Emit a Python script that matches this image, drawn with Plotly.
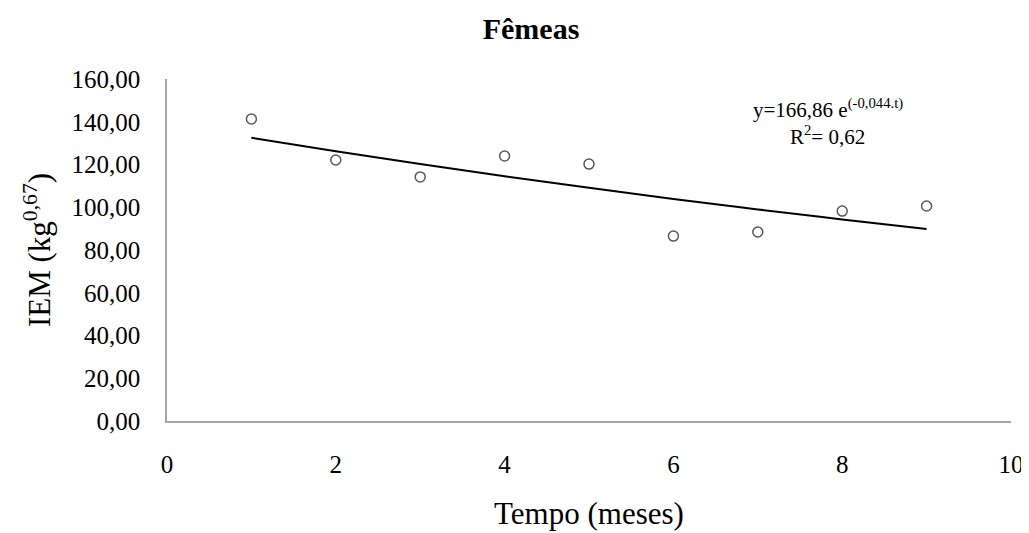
import plotly.graph_objects as go

months = [1, 2, 3, 4, 5, 6, 7, 8, 9]
iem = [141.3, 122.1, 114.2, 124.0, 120.2, 86.5, 88.4, 98.2, 100.6]
trend = [132.5, 126.2, 120.2, 114.5, 109.1, 103.9, 99.0, 94.3, 89.8]
y_ticks = [0, 20, 40, 60, 80, 100, 120, 140, 160]
x_ticks = [0, 2, 4, 6, 8, 10]

FONT = "Liberation Serif, Times New Roman, serif"
OFF = 8  # page body margin

fig = go.Figure()
fig.add_trace(go.Scatter(
    x=months, y=trend, mode="lines",
    line=dict(color="black", width=2, shape="spline"),
    showlegend=False, hoverinfo="skip"))
fig.add_trace(go.Scatter(
    x=months, y=iem, mode="markers",
    marker=dict(symbol="circle-open", size=10, color="#595959", line=dict(width=1.5, color="#595959")),
    showlegend=False))

fig.add_annotation(x=7.83, y=146.0, xref="x", yref="y", showarrow=False,
                   text="y=166,86 e<sup>(-0,044.t)</sup>", font=dict(family=FONT, size=21, color="black"))
fig.add_annotation(x=7.83, y=133.8, xref="x", yref="y", showarrow=False,
                   text="R<sup>2</sup>= 0,62", font=dict(family=FONT, size=21, color="black"))

fig.update_layout(
    width=1029, height=533,
    margin=dict(l=167 - OFF, r=1029 - 1011 + OFF, t=79 - OFF, b=533 - 421 + OFF),
    paper_bgcolor="white", plot_bgcolor="white",
    separators=",.",
    font=dict(family=FONT, color="black"),
    title=dict(text="<b>Fêmeas</b>", x=(531 - OFF) / 1029, xanchor="center", y=1 - (28 - OFF) / 533,
               yanchor="middle", yref="container", font=dict(family=FONT, size=30, color="black")),
    xaxis=dict(range=[0, 10], tickvals=x_ticks, showgrid=False, zeroline=False,
               showline=True, linecolor="#a6a6a6", linewidth=1.5, ticks="",
               ticklabelstandoff=20,
               tickfont=dict(family=FONT, size=25, color="black"),
               title=dict(text="Tempo (meses)", font=dict(family=FONT, size=31, color="black"), standoff=26)),
    yaxis=dict(range=[0, 160], tickvals=y_ticks, tickformat=".2f", showgrid=False, zeroline=False,
               showline=True, linecolor="#a6a6a6", linewidth=1.5, ticks="",
               ticklabelstandoff=20,
               tickfont=dict(family=FONT, size=25, color="black"),
               title=dict(text="IEM (kg<sup>0,67</sup>)", font=dict(family=FONT, size=31, color="black"), standoff=12)),
)

fig.write_html("out.html")
